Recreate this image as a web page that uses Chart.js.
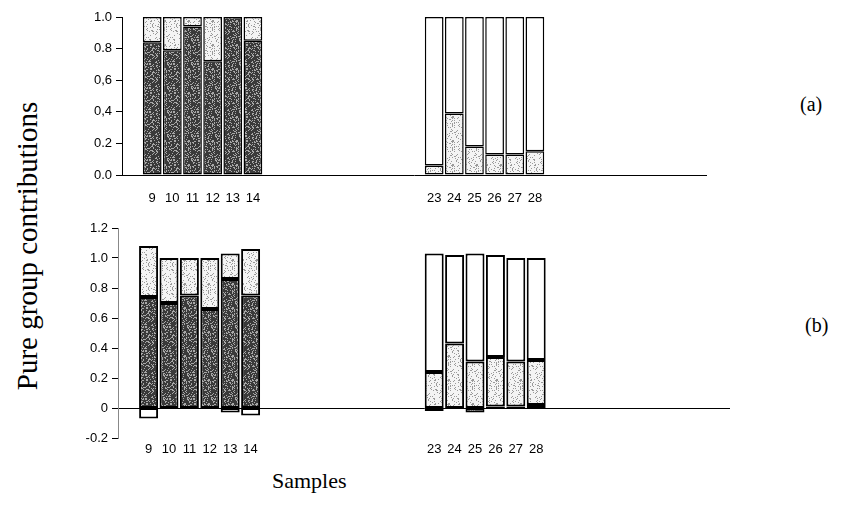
<!DOCTYPE html>
<html lang="en">
<head>
    <title>Pure group contributions</title>
    <script src="https://cdn.jsdelivr.net/npm/chart.js@4.4.1/dist/chart.umd.min.js"></script>
    <style>
        body { margin: 0; background: #fff; width: 841px; height: 521px; position: relative; overflow: hidden; }
        canvas { position: absolute; }
        .serif { position: absolute; font-family: "Liberation Serif", "Times New Roman", serif; color: #000; white-space: nowrap; }
    </style>
</head>
<body>
    <canvas id="chartA" width="632" height="205" style="left:80px; top:0px;"></canvas>
    <canvas id="chartB" width="654" height="248" style="left:76px; top:215px;"></canvas>

    <div class="serif" id="ytitle" style="font-size:29px; left:27px; top:246px; transform: translate(-50%, -50%) rotate(-90deg);">Pure group contributions</div>
    <div class="serif" style="font-size:22px; left:272px; top:468px;">Samples</div>
    <div class="serif" style="font-size:20px; left:800px; top:93px;">(a)</div>
    <div class="serif" style="font-size:20px; left:805px; top:314px;">(b)</div>

    <script>
        // samples shown on both panels
        const samples = [9, 10, 11, 12, 13, 14, 23, 24, 25, 26, 27, 28];

        // panel (a)
        const aDark  = [0.84, 0.79, 0.94, 0.72, 1.00, 0.85, null, null, null, null, null, null];
        const aLight = [0.16, 0.21, 0.06, 0.28, null, 0.15, 0.06, 0.39, 0.18, 0.13, 0.13, 0.15];
        const aWhite = [null, null, null, null, null, null, 0.94, 0.61, 0.82, 0.87, 0.87, 0.85];
        const aTicks = ['0.0', '0.2', '0,4', '0,6', '0.8', '1.0'];

        // panel (b)
        const bDark  = [0.74, 0.70, 0.75, 0.66, 0.86, 0.75, -0.02, null, -0.03, 0.01, 0.01, 0.02];
        const bLight = [0.34, 0.30, 0.25, 0.34, 0.17, 0.31, 0.24, 0.43, 0.31, 0.33, 0.30, 0.30];
        const bWhite = [-0.07, null, null, null, -0.03, -0.05, 0.79, 0.59, 0.72, 0.68, 0.69, 0.68];
        const bTicks = ['-0.2', '0', '0.2', '0.4', '0.6', '0.8', '1.0', '1.2'];

        // speckled fills like the printed figure (fixed dot pattern)
        function speckle(base, dot, density) {
            const c = document.createElement('canvas');
            c.width = 24; c.height = 24;
            const g = c.getContext('2d');
            g.fillStyle = base;
            g.fillRect(0, 0, 24, 24);
            g.fillStyle = dot;
            let s = 7;
            for (let i = 0; i < 576; i++) {
                s = (s * 1103515245 + 12345) % 2147483648;
                if ((s % 1000) / 1000 < density) g.fillRect(i % 24, Math.floor(i / 24), 1, 1);
            }
            return g.createPattern(c, 'repeat');
        }
        const darkColor = speckle('#3a3a3a', '#a8a8a8', 0.3);
        const lightColor = speckle('#f4f4f4', '#9a9a9a', 0.2);
        const whiteColor = '#ffffff';

        // build the sample axis (gaps between the two groups stay empty)
        function buildAxis(first, last) {
            let labels = [];
            for (let n = first; n <= last; n++) {
                labels.push(samples.includes(n) ? String(n) : '');
            }
            return labels;
        }

        function spread(values, labels) {
            return labels.map(function(l) {
                let i = samples.indexOf(Number(l));
                return (l !== '' && i >= 0) ? values[i] : null;
            });
        }

        function makeChart(id, first, last, dark, light, white, tickLabels, opts) {
            const labels = buildAxis(first, last);
            const ds = function(label, values, color) {
                return {
                    label: label,
                    data: spread(values, labels),
                    backgroundColor: color,
                    borderColor: '#000',
                    borderWidth: opts.border,
                    borderSkipped: false,
                    barPercentage: 0.93,
                    categoryPercentage: 1.0
                };
            };
            return new Chart(document.getElementById(id).getContext('2d'), {
                type: 'bar',
                data: {
                    labels: labels,
                    datasets: [
                        ds('Group 1', dark, darkColor),
                        ds('Group 2', light, lightColor),
                        ds('Group 3', white, whiteColor)
                    ]
                },
                options: {
                    responsive: false,
                    animation: false,
                    layout: { padding: { top: opts.padTop, right: 0, bottom: 0, left: 0 } },
                    plugins: { legend: { display: false }, tooltip: { enabled: false } },
                    scales: {
                        x: {
                            stacked: true,
                            grid: { display: false, drawTicks: false },
                            border: { display: opts.xBorder, color: '#000', width: 1 },
                            ticks: {
                                autoSkip: false, maxRotation: 0, minRotation: 0,
                                padding: opts.xPad, color: '#000',
                                font: { family: '"Liberation Sans", Arial, sans-serif', size: 13 }
                            },
                            afterFit: function(scale) { scale.height = opts.xHeight; }
                        },
                        y: {
                            stacked: true,
                            min: opts.min, max: opts.max,
                            grid: {
                                drawOnChartArea: true,
                                color: function(c) { return (c.tick && Math.abs(c.tick.value) < 1e-9 && opts.zeroLine) ? '#000' : 'rgba(0,0,0,0)'; },
                                tickColor: '#000',
                                tickLength: 6,
                                lineWidth: 1
                            },
                            border: { display: true, color: opts.yColor, width: 1 },
                            ticks: {
                                stepSize: opts.step,
                                padding: 4, color: '#000',
                                font: { family: '"Liberation Sans", Arial, sans-serif', size: 13 },
                                callback: function(v) {
                                    let k = Math.round((v - opts.min) / 0.2 * 1000) / 1000;
                                    return Number.isInteger(k) ? tickLabels[k] : '';
                                }
                            },
                            afterFit: function(scale) { scale.width = 42; }
                        }
                    }
                }
            });
        }

        makeChart('chartA', 8, 36, aDark, aLight, aWhite, aTicks,
            { border: 1.5, padTop: 17, min: 0, max: 1.0, step: 0.1, xBorder: true, xPad: 16, xHeight: 30, yColor: '#000', zeroLine: false });

        makeChart('chartB', 8, 37, bDark, bLight, bWhite, bTicks,
            { border: 2, padTop: 13, min: -0.2, max: 1.2, step: 0.2, xBorder: false, xPad: 4, xHeight: 25, yColor: '#888', zeroLine: true });
    </script>
</body>
</html>
